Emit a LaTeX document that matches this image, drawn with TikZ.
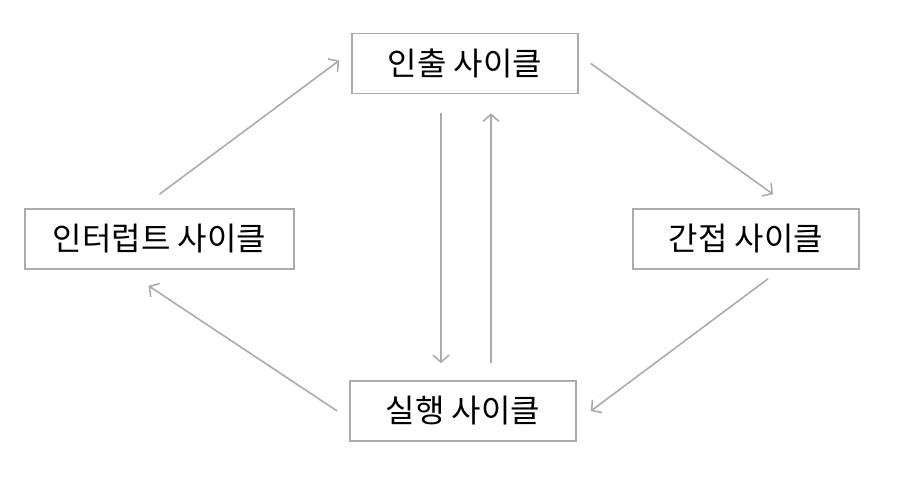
\documentclass[tikz,border=0pt]{standalone}
\usepackage{fontspec}
\setmainfont{Noto Sans CJK KR}
\usetikzlibrary{arrows.meta}
\definecolor{linegray}{HTML}{ABABAB}
\tikzset{
    cycbox/.style={draw=linegray, line width=1.6pt, minimum width=226pt, minimum height=60pt, inner sep=0pt, font=\fontsize{32}{38}\selectfont},
    flow/.style={draw=linegray, line width=1.6pt, -{Straight Barb[length=7pt,width=16pt]}}
}
\begin{document}
\begin{tikzpicture}[x=1pt, y=-1pt]
    \useasboundingbox (0,0) rectangle (902,482);
    % 네 가지 사이클
    \node[cycbox] (fetch) at (465,63.5) {인출 사이클};
    \node[cycbox, minimum width=269pt] (intr) at (159.5,239) {인터럽트 사이클};
    \node[cycbox] (indir) at (746,239) {간접 사이클};
    \node[cycbox] (exec) at (463,411) {실행 사이클};
    % 바깥 순환
    \draw[flow] ([yshift=14pt]intr.north) -- ([xshift=-12pt,yshift=3pt]fetch.west);
    \draw[flow] ([xshift=12pt]fetch.east) -- ([xshift=27pt,yshift=14pt]indir.north);
    \draw[flow] ([xshift=22pt,yshift=-9pt]indir.south) -- ([xshift=14pt]exec.east);
    \draw[flow] ([xshift=-12pt]exec.west) -- ([xshift=-11pt,yshift=-16pt]intr.south);
    % 인출 <-> 실행
    \draw[flow] ([xshift=-24pt,yshift=-19pt]fetch.south) -- ([xshift=-22pt,yshift=17pt]exec.north);
    \draw[flow] ([xshift=28pt,yshift=17pt]exec.north) -- ([xshift=26pt,yshift=-19pt]fetch.south);
\end{tikzpicture}
\end{document}
